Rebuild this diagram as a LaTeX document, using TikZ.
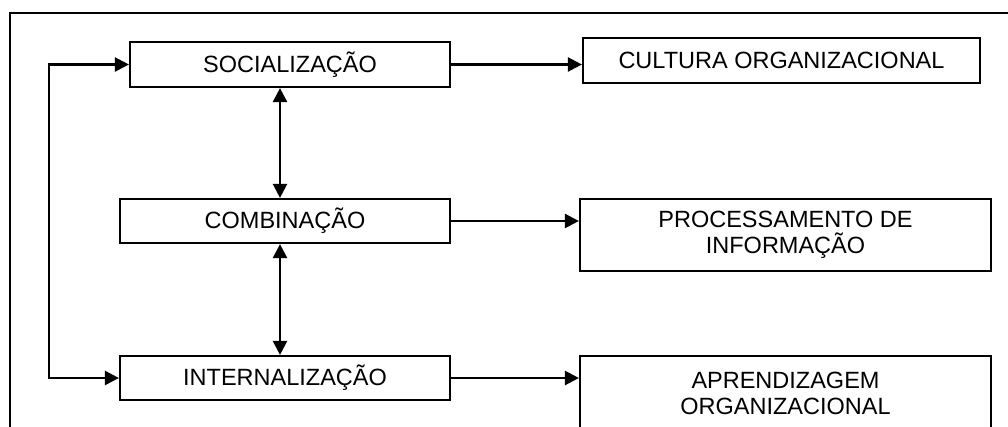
\documentclass[tikz,border=0pt]{standalone}
\usepackage{fontspec}
\setmainfont{Liberation Sans}
\usetikzlibrary{arrows.meta}
\begin{document}
\begin{tikzpicture}[x=1pt,y=-1pt,
  every node/.style={font=\fontsize{23.5}{26}\selectfont},
  box/.style={draw,line width=2.2pt,inner sep=0pt,align=center},
  link/.style={line width=2.4pt,-{Triangle[length=14pt,width=14pt]}},
  duplex/.style={line width=2.4pt,{Triangle[length=14pt,width=14pt]}-{Triangle[length=14pt,width=14pt]}}]
\useasboundingbox (0,0) rectangle (1008,427);
\clip (0,0) rectangle (1008,427);
% outer frame (top and left edges)
\draw[line width=2pt] (10,428) -- (10,13) -- (1012,13);
% process boxes
\node[box,minimum width=320pt,minimum height=45pt] (soc) at (290,64.5) {SOCIALIZAÇÃO};
\node[box,minimum width=330pt,minimum height=44pt] (comb) at (285,221) {COMBINAÇÃO};
\node[box,minimum width=330pt,minimum height=44pt] (intern) at (285,378) {INTERNALIZAÇÃO};
% result boxes
\node[box,minimum width=397pt,minimum height=45pt] (cult) at (781.5,60.5) {CULTURA ORGANIZACIONAL};
\node[box,minimum width=411pt,minimum height=72pt] (proc) at (785.5,235) {PROCESSAMENTO DE\\INFORMAÇÃO};
\node[box,minimum width=411pt,minimum height=74pt] (apr) at (785.5,393) {APRENDIZAGEM\\ORGANIZACIONAL};
% horizontal links
\draw[link] (soc.east) -- (soc.east -| cult.west);
\draw[link] (comb.east) -- (comb.east -| proc.west);
\draw[link] (intern.east) -- (intern.east -| apr.west);
% vertical two-way links
\coordinate (vx) at (280,0);
\draw[duplex] (vx |- soc.south) -- (vx |- comb.north);
\draw[duplex] (vx |- comb.south) -- (vx |- intern.north);
% feedback loop on the left
\draw[duplex] (soc.west) -- ++(-80,0) |- (intern.west);
\end{tikzpicture}
\end{document}
